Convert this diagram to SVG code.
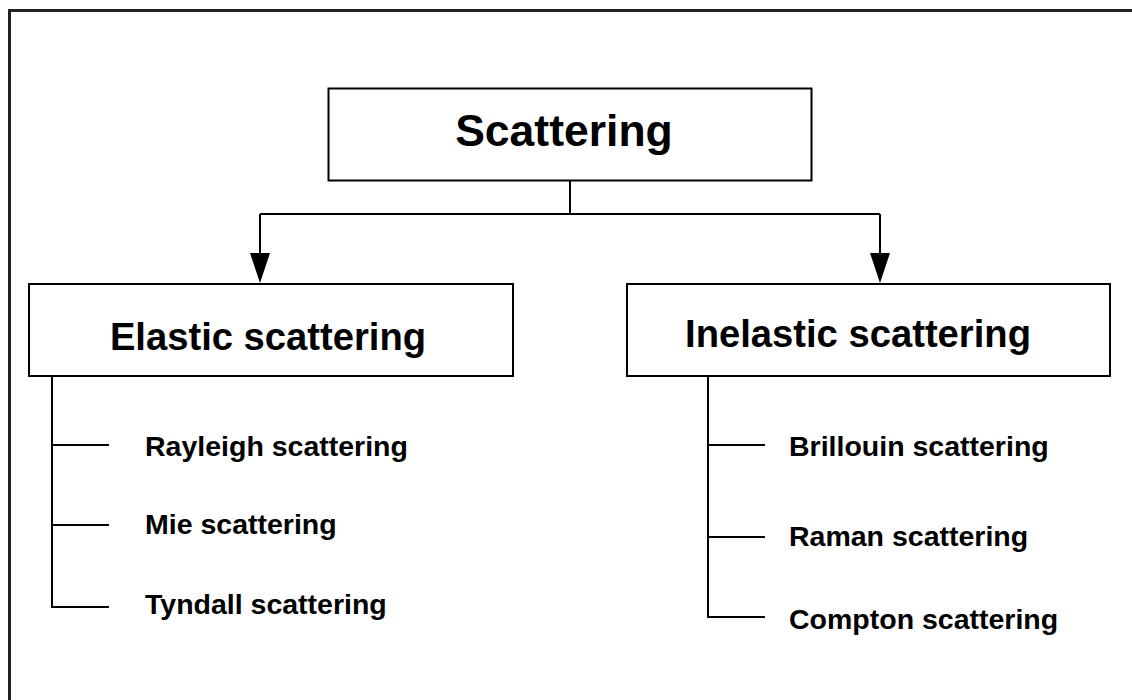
<svg xmlns="http://www.w3.org/2000/svg" width="1132" height="700" viewBox="0 0 1132 700">
  <style>
    .box { fill: #ffffff; stroke: #000000; stroke-width: 2; }
    .frame { fill: none; stroke: #222222; stroke-width: 3; }
    .wire { fill: none; stroke: #000000; stroke-width: 2; }
    .title { font-family: "Liberation Sans", Arial, sans-serif; font-weight: bold; font-size: 44.5px; fill: #000000; text-anchor: middle; }
    .head { font-family: "Liberation Sans", Arial, sans-serif; font-weight: bold; font-size: 38.2px; fill: #000000; text-anchor: middle; }
    .item { font-family: "Liberation Sans", Arial, sans-serif; font-weight: bold; font-size: 28.5px; fill: #000000; }
  </style>

  <rect x="0" y="0" width="1132" height="700" fill="#ffffff"/>
  <!-- outer frame, open to the right and bottom -->
  <rect class="frame" x="9.5" y="10.5" width="1140" height="710"/>

  <!-- connectors -->
  <g id="connectors">
    <polyline class="wire" points="570,181 570,214"/>
    <path class="wire" d="M260,214 H880"/>
    <path class="wire" d="M260,214 V253"/>
    <path class="wire" d="M880,214 V253"/>
    <polygon points="250,253 270,253 260,283" fill="#000000"/>
    <polygon points="870,253 890,253 880,283" fill="#000000"/>
    <!-- elastic branch -->
    <path class="wire" d="M52,376 V607 H109"/>
    <path class="wire" d="M52,445 H109"/>
    <path class="wire" d="M52,525 H109"/>
    <!-- inelastic branch -->
    <path class="wire" d="M708,376 V617 H765"/>
    <path class="wire" d="M708,445 H765"/>
    <path class="wire" d="M708,537 H765"/>
  </g>

  <g id="scattering">
    <rect class="box" x="328.5" y="88.5" width="483" height="92"/>
    <text class="title" x="564" y="146">Scattering</text>
  </g>

  <g id="elastic">
    <rect class="box" x="29" y="284" width="484" height="92"/>
    <text class="head" x="268" y="350">Elastic scattering</text>
  </g>

  <g id="inelastic">
    <rect class="box" x="627" y="284" width="483" height="92"/>
    <text class="head" x="858" y="347">Inelastic scattering</text>
  </g>

  <g id="rayleigh"><text class="item" x="145" y="456">Rayleigh scattering</text></g>
  <g id="mie"><text class="item" x="145" y="534">Mie scattering</text></g>
  <g id="tyndall"><text class="item" x="145" y="614">Tyndall scattering</text></g>

  <g id="brillouin"><text class="item" x="789" y="456">Brillouin scattering</text></g>
  <g id="raman"><text class="item" x="789" y="546">Raman scattering</text></g>
  <g id="compton"><text class="item" x="789" y="629">Compton scattering</text></g>
</svg>
